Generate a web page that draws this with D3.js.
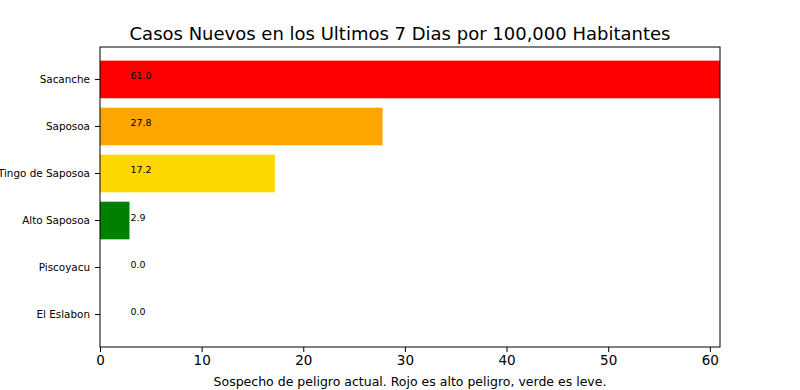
<!DOCTYPE html>
<html lang="en">
<head>
    <meta charset="UTF-8">
    <title>Casos Nuevos</title>
    <style>
        body { margin: 0; background: #fff; }
        svg { display: block; font-family: "DejaVu Sans", sans-serif; }
        .axis path, .axis line { stroke: #000; }
    </style>
    <script src="https://d3js.org/d3.v7.min.js"></script>
</head>
<body>
    <svg width="800" height="390"></svg>
    <script>
        const districts = ["Sacanche", "Saposoa", "Tingo de Saposoa", "Alto Saposoa", "Piscoyacu", "El Eslabon"];
        const cases = [61.0, 27.8, 17.2, 2.9, 0.0, 0.0];
        const barColors = ["#ff0000", "#ffa500", "#ffd700", "#008000", "#008000", "#008000"];
        const xTicks = [0, 10, 20, 30, 40, 50, 60];

        const svg = d3.select("svg");
        const margin = { top: 47, right: 80, bottom: 43, left: 100 },
            width = 800 - margin.left - margin.right,
            height = 390 - margin.top - margin.bottom;

        const x = d3.scaleLinear()
            .domain([0, d3.max(cases)])
            .range([0, width]);

        const y = d3.scaleBand()
            .domain(districts)
            .range([0, height])
            .paddingInner(0.2)
            .paddingOuter(0.29);

        const g = svg.append("g")
            .attr("transform", `translate(${margin.left},${margin.top})`);

        g.selectAll("rect.bar")
            .data(districts)
            .join("rect")
            .attr("class", "bar")
            .attr("x", x(0))
            .attr("y", d => y(d))
            .attr("width", (d, i) => x(cases[i]) - x(0))
            .attr("height", y.bandwidth())
            .attr("fill", (d, i) => barColors[i]);

        // value labels, placed at x = 3 on the baseline of the bar center
        g.selectAll("text.val")
            .data(districts)
            .join("text")
            .attr("class", "val")
            .attr("x", x(3))
            .attr("y", d => y(d) + y.bandwidth() / 2)
            .attr("font-size", "9.5px")
            .text((d, i) => cases[i].toFixed(1));

        // frame
        g.append("rect")
            .attr("width", width)
            .attr("height", height)
            .attr("fill", "none")
            .attr("stroke", "#000")
            .attr("stroke-width", 1);

        const xAxis = g.append("g")
            .attr("class", "axis")
            .attr("transform", `translate(0,${height})`)
            .call(d3.axisBottom(x).tickValues(xTicks).tickSize(5).tickPadding(3).tickFormat(d3.format("d")));
        xAxis.select(".domain").remove();
        xAxis.selectAll("text").attr("font-size", "13.5px").attr("fill", "#000");

        const yAxis = g.append("g")
            .attr("class", "axis")
            .call(d3.axisLeft(y).tickSize(5).tickPadding(5));
        yAxis.select(".domain").remove();
        yAxis.selectAll("text").attr("font-size", "10.4px").attr("fill", "#000");
        g.selectAll(".axis").attr("font-family", null);

        svg.append("text")
            .attr("x", 400)
            .attr("y", 40)
            .attr("text-anchor", "middle")
            .attr("font-size", "18px")
            .text("Casos Nuevos en los Ultimos 7 Dias por 100,000 Habitantes");

        svg.append("text")
            .attr("x", margin.left + width / 2)
            .attr("y", 386)
            .attr("text-anchor", "middle")
            .attr("font-size", "12.5px")
            .text("Sospecho de peligro actual. Rojo es alto peligro, verde es leve.");
    </script>
</body>
</html>
